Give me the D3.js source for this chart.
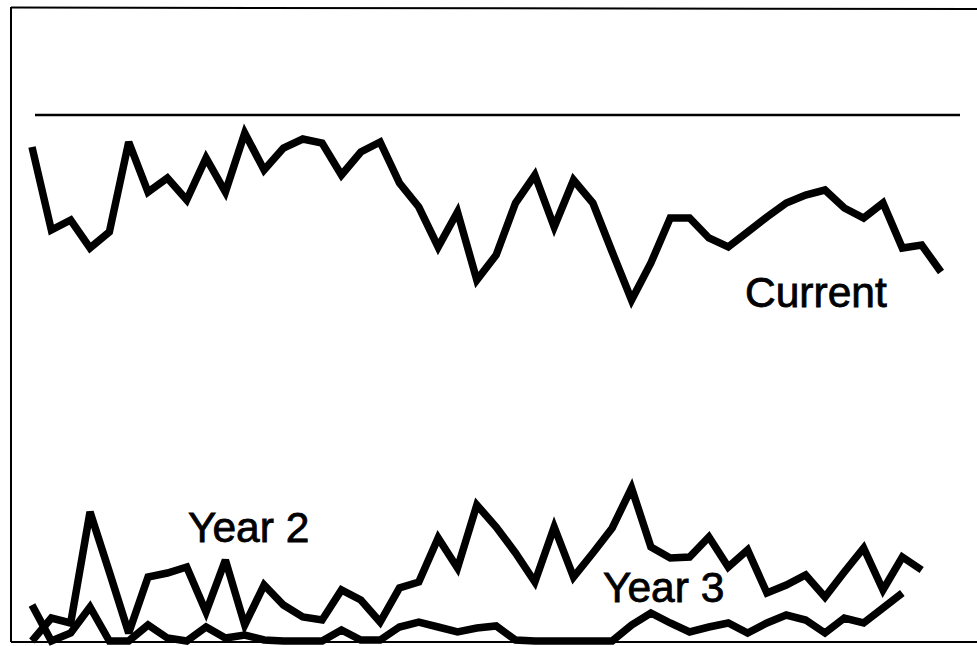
<!DOCTYPE html>
<html>
<head>
<meta charset="utf-8">
<script src="https://cdn.jsdelivr.net/npm/d3@7"></script>
<style>
    body { margin:0; background:#fff; }
    text { font-family:"Liberation Sans", Arial, sans-serif; fill:#000; }
</style>
</head>
<body>
<div id="chart-area"></div>
<script>
// values (arbitrary units, 0 = bottom of frame)
var current = [494,411,421,393,409,499,449,463,441,483,449,508,471,493,502,498,466,489,499,458,
               434,394,429,361,386,438,466,414,461,438,389,341,378,423,423,403,394,409,424,438,
               446,451,433,423,438,393,396,369];
var year2 = [0,23,18,129,69,8,64,68,74,29,81,16,56,36,24,21,51,41,19,53,
             59,103,73,136,114,88,59,114,64,88,113,153,94,83,84,104,74,91,48,56,
             66,44,69,93,51,84,71];
var year3 = [36,0,8,34,0,0,16,3,0,14,3,6,1,0,0,0,11,1,1,14,
             19,14,9,13,15,1,0,0,0,0,0,16,28,18,9,14,18,8,18,26,
             21,8,23,18,33,48];
var target = 526;
var labels = ["Current", "Year 2", "Year 3"];

var width = 977, height = 646;

var svg = d3.select("#chart-area")
    .append("svg")
        .attr("width", width)
        .attr("height", height);

var xscale = d3.scaleLinear()
    .domain([0, current.length - 1])
    .range([32, 941]);

var yscale = d3.scaleLinear()
    .domain([0, 634])
    .range([641, 7]);

// frame (left, top, bottom)
var frame = svg.append("g").attr("stroke", "#000").attr("stroke-width", 2);
frame.append("line").attr("x1", 11).attr("y1", 7).attr("x2", 11).attr("y2", 642);
frame.append("line").attr("x1", 11).attr("y1", 7.5).attr("x2", width).attr("y2", 9);
frame.append("line").attr("x1", 11).attr("y1", 642).attr("x2", width).attr("y2", 642);

// target line
svg.append("line")
    .attr("x1", 35).attr("x2", 960)
    .attr("y1", yscale(target)).attr("y2", yscale(target))
    .attr("stroke", "#000")
    .attr("stroke-width", 2.5);

var line = d3.line()
    .x(function(d, i){ return xscale(i); })
    .y(function(d){ return yscale(d); });

[current, year2, year3].forEach(function(s){
    svg.append("path")
        .datum(s)
        .attr("d", line)
        .attr("fill", "none")
        .attr("stroke", "#000")
        .attr("stroke-width", 7.5)
        .attr("stroke-linejoin", "miter")
        .attr("stroke-miterlimit", 3);
});

// series labels
var labelPos = [[745, 307], [188, 542], [603, 602]];
labels.forEach(function(t, i){
    svg.append("text")
        .attr("x", labelPos[i][0])
        .attr("y", labelPos[i][1])
        .attr("font-size", 42.5)
        .attr("stroke", "#000")
        .attr("stroke-width", 0.8)
        .text(t);
});
</script>
</body>
</html>
